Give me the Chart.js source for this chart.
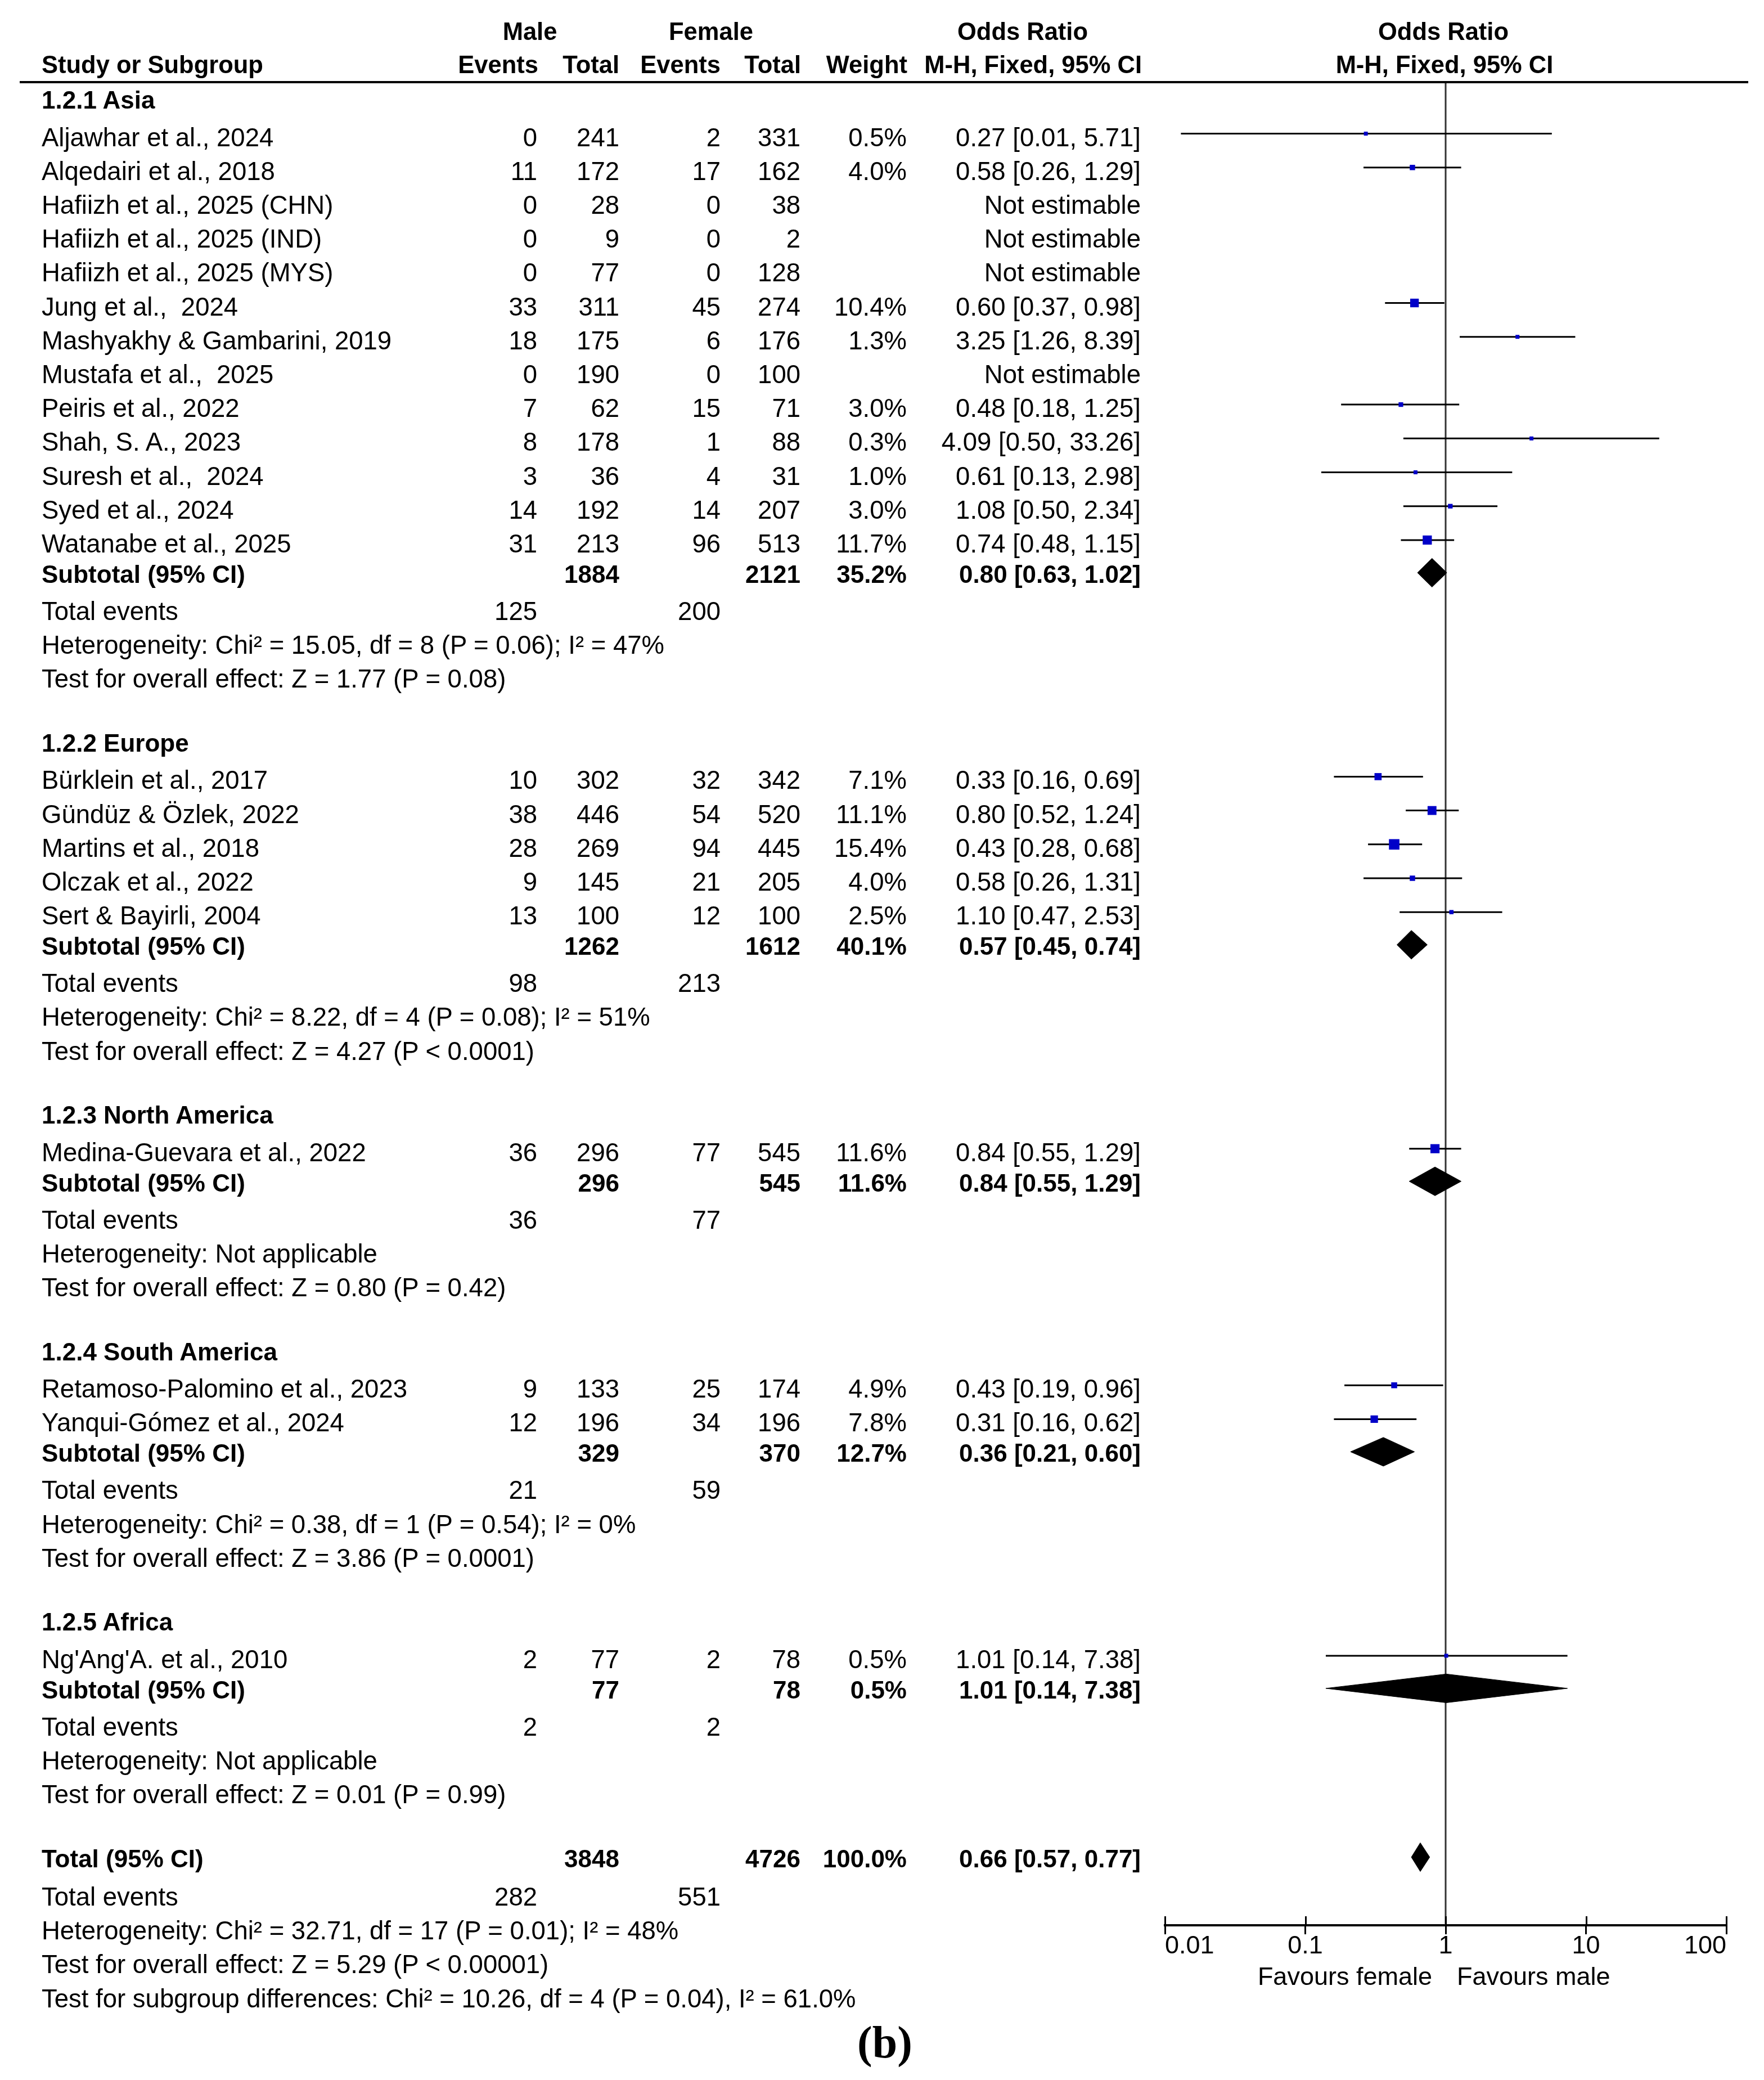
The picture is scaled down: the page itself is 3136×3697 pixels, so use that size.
<!DOCTYPE html>
<html>
<head>
<meta charset="utf-8">
<script src="https://cdn.jsdelivr.net/npm/chart.js@4.4.1/dist/chart.umd.min.js"></script>
<style>
  html, body { margin: 0; padding: 0; background: #fff; }
  body { width: 3136px; height: 3697px; position: relative; overflow: hidden; }
  #wrap { position: absolute; left: 0; top: 0; width: 3136px; height: 3697px; }
  .t { position: absolute; white-space: pre; font-family: "Liberation Sans", Arial, sans-serif; color: #000; height: 60px; line-height: 60px; }
  .r { font-size: 45.5px; }
  .b { font-size: 44px; font-weight: bold; }
  .hb { font-size: 43.5px; font-weight: bold; }
  .rule { position: absolute; background: #000; }
  .lab { position: absolute; font-family: "Liberation Serif", "Times New Roman", serif; font-weight: bold; font-size: 80px; line-height: 100px; height: 100px; white-space: pre; }
</style>
</head>
<body>
<div id="wrap"><canvas id="c" width="3136" height="3697"></canvas></div>
<script>
// ---------------- DATA ----------------
const groupNames = ["1.2.1 Asia", "1.2.2 Europe", "1.2.3 North America", "1.2.4 South America", "1.2.5 Africa"];

const studyNames = [
  "Aljawhar et al., 2024", "Alqedairi et al., 2018", "Hafiizh et al., 2025 (CHN)", "Hafiizh et al., 2025 (IND)",
  "Hafiizh et al., 2025 (MYS)", "Jung et al.,  2024", "Mashyakhy & Gambarini, 2019", "Mustafa et al.,  2025",
  "Peiris et al., 2022", "Shah, S. A., 2023", "Suresh et al.,  2024", "Syed et al., 2024", "Watanabe et al., 2025",
  "Bürklein et al., 2017", "Gündüz & Özlek, 2022", "Martins et al., 2018", "Olczak et al., 2022", "Sert & Bayirli, 2004",
  "Medina-Guevara et al., 2022",
  "Retamoso-Palomino et al., 2023", "Yanqui-Gómez et al., 2024",
  "Ng'Ang'A. et al., 2010"
];
const studyGroup   = [0,0,0,0,0,0,0,0,0,0,0,0,0, 1,1,1,1,1, 2, 3,3, 4];
const maleEvents   = [0, 11, 0, 0, 0, 33, 18, 0, 7, 8, 3, 14, 31, 10, 38, 28, 9, 13, 36, 9, 12, 2];
const maleTotal    = [241, 172, 28, 9, 77, 311, 175, 190, 62, 178, 36, 192, 213, 302, 446, 269, 145, 100, 296, 133, 196, 77];
const femaleEvents = [2, 17, 0, 0, 0, 45, 6, 0, 15, 1, 4, 14, 96, 32, 54, 94, 21, 12, 77, 25, 34, 2];
const femaleTotal  = [331, 162, 38, 2, 128, 274, 176, 100, 71, 88, 31, 207, 513, 342, 520, 445, 205, 100, 545, 174, 196, 78];
const studyWeight  = [0.5, 4.0, null, null, null, 10.4, 1.3, null, 3.0, 0.3, 1.0, 3.0, 11.7, 7.1, 11.1, 15.4, 4.0, 2.5, 11.6, 4.9, 7.8, 0.5];
const studyOR      = [0.27, 0.58, null, null, null, 0.60, 3.25, null, 0.48, 4.09, 0.61, 1.08, 0.74, 0.33, 0.80, 0.43, 0.58, 1.10, 0.84, 0.43, 0.31, 1.01];
const studyLo      = [0.013, 0.26, null, null, null, 0.37, 1.26, null, 0.18, 0.50, 0.13, 0.50, 0.48, 0.16, 0.52, 0.28, 0.26, 0.47, 0.55, 0.19, 0.16, 0.14];
const studyHi      = [5.71, 1.29, null, null, null, 0.98, 8.39, null, 1.25, 33.26, 2.98, 2.34, 1.15, 0.69, 1.24, 0.68, 1.31, 2.53, 1.29, 0.96, 0.62, 7.38];

const subMaleTotal    = [1884, 1262, 296, 329, 77];
const subFemaleTotal  = [2121, 1612, 545, 370, 78];
const subWeight       = [35.2, 40.1, 11.6, 12.7, 0.5];
const subOR           = [0.80, 0.57, 0.84, 0.36, 1.01];
const subLo           = [0.63, 0.45, 0.55, 0.21, 0.14];
const subHi           = [1.02, 0.74, 1.29, 0.60, 7.38];
const subMaleEvents   = [125, 98, 36, 21, 2];
const subFemaleEvents = [200, 213, 77, 59, 2];
const subHeterogeneity = [
  "Heterogeneity: Chi² = 15.05, df = 8 (P = 0.06); I² = 47%",
  "Heterogeneity: Chi² = 8.22, df = 4 (P = 0.08); I² = 51%",
  "Heterogeneity: Not applicable",
  "Heterogeneity: Chi² = 0.38, df = 1 (P = 0.54); I² = 0%",
  "Heterogeneity: Not applicable"
];
const subOverall = [
  "Test for overall effect: Z = 1.77 (P = 0.08)",
  "Test for overall effect: Z = 4.27 (P < 0.0001)",
  "Test for overall effect: Z = 0.80 (P = 0.42)",
  "Test for overall effect: Z = 3.86 (P = 0.0001)",
  "Test for overall effect: Z = 0.01 (P = 0.99)"
];

const totalLabel = "Total (95% CI)";
const totalMale = 3848, totalFemale = 4726, totalWeight = 100.0;
const totalOR = 0.66, totalLo = 0.57, totalHi = 0.77;
const totalMaleEvents = 282, totalFemaleEvents = 551;
const totalHeterogeneity = "Heterogeneity: Chi² = 32.71, df = 17 (P = 0.01); I² = 48%";
const totalOverall = "Test for overall effect: Z = 5.29 (P < 0.00001)";
const subgroupDiff = "Test for subgroup differences: Chi² = 10.26, df = 4 (P = 0.04), I² = 61.0%";

const xTickValues = [0.01, 0.1, 1, 10, 100];
const xTickLabels = ["0.01", "0.1", "1", "10", "100"];
const favoursLeft = "Favours female";
const favoursRight = "Favours male";
const panelLabel = "(b)";

// ---------------- LAYOUT ----------------
const COL = { label: 74, me: 955, mt: 1101, fe: 1281, ft: 1423, w: 1612, or: 2028 };
const L = { firstHeader: 178, headerToStudy: 66.5, studyPitch: 60.2, studyToSub: 54, subToEvents: 66,
            linePitch: 60.2, sectionGap: 113.6, totalToEvents: 68, markOffset: -7, diamondOffset: -3, diamondHalf: 25.5 };
const PLOT = { left: 2071, right: 3069, top: 146, axis: 3422, W: 3136, H: 3697 };

const body = document.body;
function txt(s, x, y, align, cls) {
  const d = document.createElement('div');
  d.className = 't ' + cls;
  d.textContent = s;
  d.style.top = (y - 30) + 'px';
  if (align === 'left') d.style.left = x + 'px';
  else if (align === 'right') d.style.right = (PLOT.W - x) + 'px';
  else { d.style.left = (x - 600) + 'px'; d.style.width = '1200px'; d.style.textAlign = 'center'; }
  body.appendChild(d);
  return d;
}
const f2 = v => v.toFixed(2);
const orText = (o, lo, hi) => f2(o) + " [" + f2(lo) + ", " + f2(hi) + "]";
const wText = w => w.toFixed(1) + "%";

// header
txt("Male", 942, 56, 'center', 'hb');
txt("Female", 1264, 56, 'center', 'hb');
txt("Odds Ratio", 1818, 56, 'center', 'hb');
txt("Odds Ratio", 2566, 56, 'center', 'hb');
txt("Study or Subgroup", COL.label, 115, 'left', 'hb');
txt("Events", COL.me + 2, 115, 'right', 'hb');
txt("Total", COL.mt, 115, 'right', 'hb');
txt("Events", COL.fe, 115, 'right', 'hb');
txt("Total", COL.ft + 1, 115, 'right', 'hb');
txt("Weight", COL.w + 1, 115, 'right', 'hb');
txt("M-H, Fixed, 95% CI", COL.or + 2, 115, 'right', 'hb');
txt("M-H, Fixed, 95% CI", 2568, 115, 'center', 'hb');
const rule = document.createElement('div');
rule.className = 'rule';
rule.style.left = '35px'; rule.style.top = '143.5px'; rule.style.width = '3073px'; rule.style.height = '4px';
body.appendChild(rule);

// datasets
const ciSets = [];
const diamondSets = [];
const squarePts = [];
const squareSide = [];

function addDiamond(o, lo, hi, yc) {
  const h = L.diamondHalf;
  diamondSets.push({
    type: 'line',
    data: [{x: lo, y: yc}, {x: o, y: yc - h}, {x: hi, y: yc}, {x: o, y: yc + h}, {x: lo, y: yc}],
    borderColor: '#000', backgroundColor: '#000', borderWidth: 1, pointRadius: 0, fill: 'shape', tension: 0, order: 2
  });
}

let y = L.firstHeader;
for (let g = 0; g < groupNames.length; g++) {
  if (g > 0) y += L.sectionGap;
  txt(groupNames[g], COL.label, y, 'left', 'b');
  let k = 0;
  for (let i = 0; i < studyNames.length; i++) {
    if (studyGroup[i] !== g) continue;
    y += (k === 0) ? L.headerToStudy : L.studyPitch;
    k++;
    txt(studyNames[i], COL.label, y, 'left', 'r');
    txt(String(maleEvents[i]), COL.me, y, 'right', 'r');
    txt(String(maleTotal[i]), COL.mt, y, 'right', 'r');
    txt(String(femaleEvents[i]), COL.fe, y, 'right', 'r');
    txt(String(femaleTotal[i]), COL.ft, y, 'right', 'r');
    if (studyWeight[i] === null) {
      txt("Not estimable", COL.or, y, 'right', 'r');
    } else {
      txt(wText(studyWeight[i]), COL.w, y, 'right', 'r');
      txt(orText(studyOR[i], studyLo[i], studyHi[i]), COL.or, y, 'right', 'r');
      const ym = y + L.markOffset;
      ciSets.push({
        type: 'line', data: [{x: studyLo[i], y: ym}, {x: studyHi[i], y: ym}],
        borderColor: '#000', borderWidth: 3, pointRadius: 0, fill: false, order: 4
      });
      squarePts.push({x: studyOR[i], y: ym});
      squareSide.push(Math.max(7, 4.75 * Math.sqrt(studyWeight[i])));
    }
  }
  y += L.studyToSub;
  txt("Subtotal (95% CI)", COL.label, y, 'left', 'b');
  txt(String(subMaleTotal[g]), COL.mt, y, 'right', 'b');
  txt(String(subFemaleTotal[g]), COL.ft, y, 'right', 'b');
  txt(wText(subWeight[g]), COL.w, y, 'right', 'b');
  txt(orText(subOR[g], subLo[g], subHi[g]), COL.or, y, 'right', 'b');
  addDiamond(subOR[g], subLo[g], subHi[g], y + L.diamondOffset);
  y += L.subToEvents;
  txt("Total events", COL.label, y, 'left', 'r');
  txt(String(subMaleEvents[g]), COL.me, y, 'right', 'r');
  txt(String(subFemaleEvents[g]), COL.fe, y, 'right', 'r');
  y += L.linePitch;
  txt(subHeterogeneity[g], COL.label, y, 'left', 'r');
  y += L.linePitch;
  txt(subOverall[g], COL.label, y, 'left', 'r');
}
y += L.sectionGap;
txt(totalLabel, COL.label, y, 'left', 'b');
txt(String(totalMale), COL.mt, y, 'right', 'b');
txt(String(totalFemale), COL.ft, y, 'right', 'b');
txt(wText(totalWeight), COL.w, y, 'right', 'b');
txt(orText(totalOR, totalLo, totalHi), COL.or, y, 'right', 'b');
addDiamond(totalOR, totalLo, totalHi, y + L.diamondOffset);
y += L.totalToEvents;
txt("Total events", COL.label, y, 'left', 'r');
txt(String(totalMaleEvents), COL.me, y, 'right', 'r');
txt(String(totalFemaleEvents), COL.fe, y, 'right', 'r');
y += L.linePitch;
txt(totalHeterogeneity, COL.label, y, 'left', 'r');
y += L.linePitch;
txt(totalOverall, COL.label, y, 'left', 'r');
y += L.linePitch;
txt(subgroupDiff, COL.label, y, 'left', 'r');

// panel label
const pl = document.createElement('div');
pl.className = 'lab';
pl.textContent = panelLabel;
pl.style.left = (1573 - 300) + 'px'; pl.style.width = '600px'; pl.style.textAlign = 'center';
pl.style.top = (3630 - 50) + 'px';
body.appendChild(pl);

// ---------------- CHART ----------------
const refLine = {
  type: 'line', data: [{x: 1, y: PLOT.top}, {x: 1, y: PLOT.axis}],
  borderColor: '#333', borderWidth: 3, pointRadius: 0, fill: false, order: 5
};
const squares = {
  type: 'line', data: squarePts, showLine: false,
  pointStyle: 'rect', pointBackgroundColor: '#0000c8', pointBorderWidth: 0, pointBorderColor: '#0000c8',
  pointRadius: ctx => squareSide[ctx.dataIndex] / Math.SQRT2, pointHoverRadius: ctx => squareSide[ctx.dataIndex] / Math.SQRT2,
  order: 1
};

const X_SCALE_H = 100;
const tickPlugin = {
  id: 'forestTicks',
  afterDraw(chart) {
    const s = chart.scales.x, ctx = chart.ctx, yb = chart.chartArea.bottom;
    ctx.save();
    ctx.strokeStyle = '#000'; ctx.lineWidth = 3;
    s.ticks.forEach(t => {
      const px = Math.round(s.getPixelForValue(t.value)) + 0.5;
      ctx.beginPath(); ctx.moveTo(px, yb - 16); ctx.lineTo(px, yb); ctx.stroke();
    });
    ctx.fillStyle = '#000';
    ctx.font = '45px "Liberation Sans", Arial, sans-serif';
    ctx.textBaseline = 'middle';
    const n = s.ticks.length;
    s.ticks.forEach((t, i) => {
      const px = s.getPixelForValue(t.value);
      ctx.textAlign = i === 0 ? 'left' : (i === n - 1 ? 'right' : 'center');
      ctx.fillText(xTickLabels[i], px, yb + 38);
    });
    ctx.restore();
  }
};

const chart = new Chart(document.getElementById('c'), {
  type: 'line',
  data: { datasets: [refLine, ...ciSets, ...diamondSets, squares] },
  options: {
    responsive: false, animation: false, devicePixelRatio: 1,
    events: [],
    layout: { autoPadding: false, padding: { left: PLOT.left, right: PLOT.W - PLOT.right, top: PLOT.top, bottom: PLOT.H - PLOT.axis - X_SCALE_H } },
    plugins: { legend: { display: false }, tooltip: { enabled: false } },
    scales: {
      x: {
        type: 'logarithmic', min: 0.01, max: 100, position: 'bottom',
        afterBuildTicks: s => { s.ticks = xTickValues.map(v => ({ value: v })); },
        afterFit: s => { s.height = X_SCALE_H; },
        ticks: { display: false },
        grid: { drawOnChartArea: false, drawTicks: true, tickLength: 16, color: '#000', lineWidth: 3 },
        border: { display: true, color: '#000', width: 4 }
      },
      y: { type: 'linear', min: PLOT.top, max: PLOT.axis, reverse: true, display: false }
    }
  },
  plugins: [tickPlugin]
});

// favours labels positioned from the x scale
const p1 = chart.scales.x.getPixelForValue(1);
txt(favoursLeft, p1 - 24, 3513, 'right', 'r').style.fontSize = '45px';
txt(favoursRight, p1 + 20, 3513, 'left', 'r').style.fontSize = '45px';
</script>
</body>
</html>
